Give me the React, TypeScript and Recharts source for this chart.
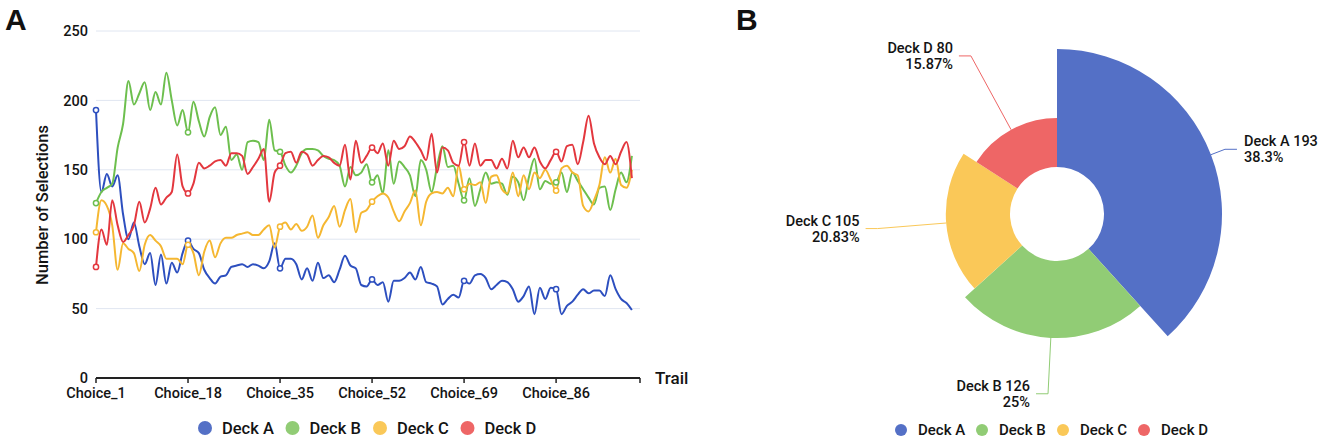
import { CartesianGrid, Cell, Line, LineChart, Pie, PieChart, XAxis, YAxis } from "recharts";

const DECKS = ["Deck A", "Deck B", "Deck C", "Deck D"];
const LINE_COLORS = ["#2d4fbf", "#6dbf4e", "#f5b731", "#e3373e"];
const PIE_COLORS = ["#5470c6", "#91cc75", "#fac858", "#ee6666"];

// selections per choice
const DECK_A = [
  193, 134, 147, 138, 146, 118, 100, 112, 95, 82,
  90, 67, 89, 68, 83, 76, 90, 99, 93, 90,
  78, 72, 68, 73, 74, 80, 81, 82, 80, 82,
  81, 79, 84, 97, 79, 86, 86, 82, 71, 79,
  70, 83, 72, 74, 69, 78, 88, 81, 79, 67,
  66, 71, 67, 69, 55, 70, 70, 72, 76, 71,
  80, 69, 68, 66, 53, 57, 60, 58, 70, 68,
  74, 75, 72, 64, 67, 70, 69, 64, 55, 59,
  66, 46, 65, 57, 65, 64, 46, 52, 55, 60,
  64, 61, 63, 63, 59, 74, 64, 57, 54, 49,
];
const DECK_B = [
  126, 134, 137, 140, 166, 183, 214, 197, 205, 213,
  193, 206, 197, 220, 200, 182, 193, 177, 199, 185,
  174, 188, 195, 175, 181, 157, 161, 150, 170, 171,
  170, 157, 186, 164, 163, 153, 148, 153, 162, 165,
  165, 164, 160, 158, 157, 153, 138, 152, 146, 148,
  154, 141, 146, 133, 164, 140, 156, 152, 146, 131,
  157, 150, 134, 152, 167, 152, 153, 140, 128, 144,
  124, 136, 148, 140, 141, 140, 132, 145, 141, 128,
  145, 158, 136, 142, 140, 141, 148, 134, 148, 142,
  136, 130, 125, 137, 138, 121, 136, 148, 141, 160,
];
const DECK_C = [
  105, 128, 124, 110, 78, 97, 93, 90, 77, 96,
  103, 99, 95, 86, 86, 86, 82, 96, 90, 74,
  91, 99, 87, 97, 101, 101, 103, 104, 105, 103,
  103, 107, 110, 94, 109, 112, 107, 111, 106, 109,
  117, 101, 110, 116, 124, 109, 121, 129, 105, 119,
  121, 127, 131, 133, 130, 120, 113, 120, 126, 135,
  110, 127, 133, 134, 133, 137, 131, 153, 136, 140,
  139, 141, 126, 145, 146, 136, 133, 148, 131, 146,
  136, 148, 144, 150, 143, 135, 151, 153, 148, 146,
  124, 120, 128, 139, 159, 148, 158, 139, 137, 150,
];
const DECK_D = [
  80, 107, 96, 128, 110, 98, 103, 110, 127, 112,
  122, 137, 125, 130, 134, 161, 138, 133, 140, 155,
  151, 153, 156, 157, 153, 162, 162, 160, 147, 152,
  158, 165, 127, 148, 153, 162, 163, 155, 163, 161,
  153, 157, 160, 159, 155, 153, 168, 143, 171, 155,
  160, 166, 162, 169, 153, 171, 165, 167, 174, 170,
  164, 157, 176, 148, 166, 164, 155, 153, 170, 153,
  169, 153, 157, 157, 151, 158, 151, 171, 159, 166,
  159, 166, 156, 151, 157, 163, 156, 167, 168, 154,
  170, 189, 169, 159, 154, 160, 154, 163, 170, 144,
];

const CHOICES = DECK_A.map((_, i) => `Choice_${i + 1}`);
const X_TICKS = [0, 17, 34, 51, 68, 85];
const X_END = 100.5;
const Y_TICKS = [0, 50, 100, 150, 200, 250];

// panel B: selections on Choice_1
const PIE_VALUES = [193, 126, 105, 80];

const lineData = CHOICES.map((name, i) => ({
  idx: i,
  name,
  a: DECK_A[i],
  b: DECK_B[i],
  c: DECK_C[i],
  d: DECK_D[i],
}));
const SERIES_KEYS = ["a", "b", "c", "d"];

const pieData = DECKS.map((name, i) => ({ name, value: PIE_VALUES[i] }));

// percentages to 2 decimals that add up to 100 (largest remainder)
function percentLabels(values: number[]) {
  const total = values.reduce((s, v) => s + v, 0);
  const raw = values.map((v) => (v / total) * 10000);
  const floors = raw.map(Math.floor);
  let left = 10000 - floors.reduce((s, v) => s + v, 0);
  const order = raw.map((r, i) => ({ i, rem: r - floors[i] })).sort((p, q) => q.rem - p.rem);
  for (const o of order) {
    if (left <= 0) break;
    floors[o.i] += 1;
    left -= 1;
  }
  return floors.map((f) => `${parseFloat((f / 100).toFixed(2))}%`);
}
const PERCENTS = percentLabels(PIE_VALUES);

const RADIAN = Math.PI / 180;
const INNER_R = 47;
const MAX_R = 165;
const ELBOW_R = 180;
const radiusOf = (v: number) => INNER_R + ((MAX_R - INNER_R) * v) / Math.max(...PIE_VALUES);

const FONT = "Roboto, 'Liberation Sans', Arial, sans-serif";
const INK = "#141414";
const WEIGHT = 500;

function markerDot(color: string) {
  return (props: any) => {
    const { cx, cy, index } = props;
    if (index % 17 !== 0) return <g key={`m-${index}`} />;
    return (
      <circle key={`m-${index}`} cx={cx} cy={cy} r={2.6} fill="#fff" stroke={color} strokeWidth={1.5} />
    );
  };
}

function pieLabel(slot: number) {
  return (props: any) => {
    const { cx, cy, midAngle, index } = props;
    if (index !== slot) return <g key={`l-${slot}-${index}`} />;
    const r = radiusOf(PIE_VALUES[index]);
    const cos = Math.cos(-midAngle * RADIAN);
    const sin = Math.sin(-midAngle * RADIAN);
    const sx = cx + r * cos;
    const sy = cy + r * sin;
    const ex = cx + ELBOW_R * cos;
    const ey = cy + ELBOW_R * sin;
    const right = cos >= 0;
    const lx = ex + (right ? 12 : -12);
    const tx = lx + (right ? 7 : -6);
    const anchor = right ? "start" : "end";
    return (
      <g key={`l-${slot}`}>
        <polyline
          points={`${sx},${sy} ${ex},${ey} ${lx},${ey}`}
          fill="none"
          stroke={PIE_COLORS[index]}
          strokeWidth={1}
        />
        <text x={tx} y={ey - 3} textAnchor={anchor} fontSize={14.5} fontWeight={WEIGHT} fontFamily={FONT} fill={INK}>
          {`${DECKS[index]} ${PIE_VALUES[index]}`}
        </text>
        <text x={tx} y={ey + 13} textAnchor={anchor} fontSize={14.5} fontWeight={WEIGHT} fontFamily={FONT} fill={INK}>
          {PERCENTS[index]}
        </text>
      </g>
    );
  };
}

const tickStyle = { fontSize: 14.5, fill: INK, fontFamily: FONT, fontWeight: WEIGHT };

export default function App() {
  return (
    <div
      style={{
        position: "absolute",
        left: 0,
        top: 0,
        width: 1325,
        height: 442,
        background: "#fff",
        overflow: "hidden",
      }}
    >
      <div style={{ position: "absolute", left: 0, top: 0 }}>
        <LineChart width={700} height={442} data={lineData} margin={{ top: 31, right: 60, bottom: 34, left: 0 }}>
          <CartesianGrid vertical={false} stroke="#e0e6f1" />
          <XAxis
            type="number"
            dataKey="idx"
            domain={[0, X_END]}
            ticks={[...X_TICKS, X_END]}
            interval={0}
            height={30}
            tickFormatter={(v: number) => (Number.isInteger(v) ? CHOICES[v] : "")}
            tick={tickStyle}
            tickSize={5}
            tickMargin={5}
            axisLine={{ stroke: "#222", strokeWidth: 2 }}
            tickLine={{ stroke: "#222", strokeWidth: 1.5 }}
          />
          <YAxis
            domain={[0, 250]}
            ticks={Y_TICKS}
            width={96}
            axisLine={false}
            tickLine={false}
            tickSize={0}
            tickMargin={8}
            tick={tickStyle}
          />
          {SERIES_KEYS.map((key, i) => (
            <Line
              key={key}
              dataKey={key}
              name={DECKS[i]}
              type="monotone"
              stroke={LINE_COLORS[i]}
              strokeWidth={2}
              dot={markerDot(LINE_COLORS[i])}
              activeDot={false}
              isAnimationActive={false}
            />
          ))}
        </LineChart>
      </div>

      <div style={{ position: "absolute", left: 700, top: 0 }}>
        <PieChart width={625} height={442}>
          {PIE_VALUES.map((v, slot) => (
            <Pie
              key={slot}
              data={pieData}
              dataKey="value"
              nameKey="name"
              cx={352}
              cy={209}
              startAngle={90}
              endAngle={-270}
              innerRadius={INNER_R}
              outerRadius={radiusOf(v)}
              stroke="none"
              labelLine={false}
              label={pieLabel(slot)}
              isAnimationActive={false}
            >
              {pieData.map((d, i) => (
                <Cell key={d.name} fill={i === slot ? PIE_COLORS[i] : "transparent"} stroke="none" />
              ))}
            </Pie>
          ))}
        </PieChart>
      </div>

      <svg
        width={1325}
        height={442}
        style={{ position: "absolute", left: 0, top: 0, pointerEvents: "none" }}
        fontFamily={FONT}
        fontWeight={WEIGHT}
      >
        <text x={5} y={30} fontSize={30} fontWeight="bold" fontFamily="'Liberation Sans', Arial, sans-serif" fill="#111">A</text>
        <text x={736} y={30} fontSize={30} fontWeight="bold" fontFamily="'Liberation Sans', Arial, sans-serif" fill="#111">B</text>
        <text
          x={42}
          y={205}
          fontSize={16.5}
          fill={INK}
          textAnchor="middle"
          dominantBaseline="central"
          transform="rotate(-90 42 205)"
        >
          Number of Selections
        </text>
        <text x={655} y={378} fontSize={17} fill={INK} dominantBaseline="central">Trail</text>

        {DECKS.map((name, i) => (
          <g key={`la-${name}`}>
            <circle cx={205 + i * 87.5} cy={428} r={7} fill={PIE_COLORS[i]} />
            <text x={222 + i * 87.5} y={428} fontSize={16.5} fill={INK} dominantBaseline="central">
              {name}
            </text>
          </g>
        ))}
        {DECKS.map((name, i) => (
          <g key={`lb-${name}`}>
            <circle cx={901 + i * 81} cy={430} r={6} fill={PIE_COLORS[i]} />
            <text x={918 + i * 81} y={430} fontSize={15} fill={INK} dominantBaseline="central">
              {name}
            </text>
          </g>
        ))}
      </svg>
    </div>
  );
}
